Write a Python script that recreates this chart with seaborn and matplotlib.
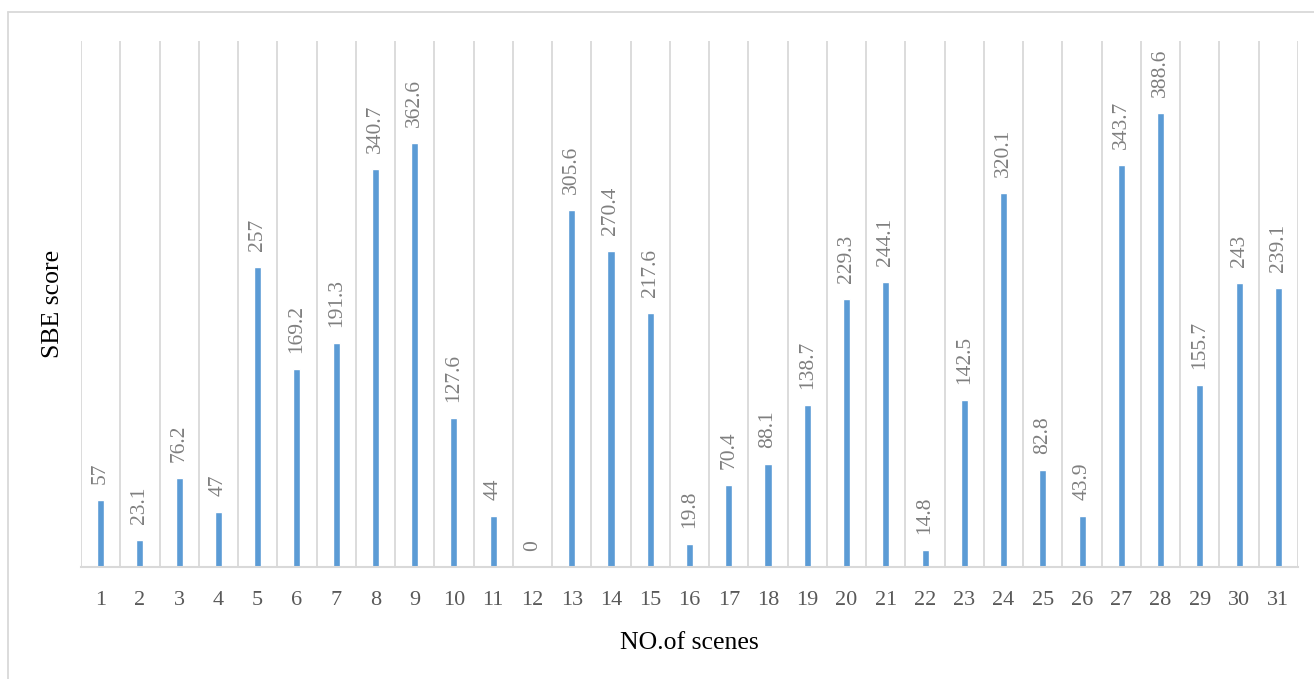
import matplotlib
matplotlib.use("Agg")
import matplotlib.pyplot as plt
import seaborn as sns
import pandas as pd
from matplotlib.lines import Line2D

scenes = [str(i) for i in range(1, 32)]
sbe_scores = [57, 23.1, 76.2, 47, 257, 169.2, 191.3, 340.7, 362.6, 127.6,
              44, 0, 305.6, 270.4, 217.6, 19.8, 70.4, 88.1, 138.7, 229.3,
              244.1, 14.8, 142.5, 320.1, 82.8, 43.9, 343.7, 388.6, 155.7, 243,
              239.1]
value_labels = ["57", "23.1", "76.2", "47", "257", "169.2", "191.3", "340.7",
                "362.6", "127.6", "44", "0", "305.6", "270.4", "217.6", "19.8",
                "70.4", "88.1", "138.7", "229.3", "244.1", "14.8", "142.5",
                "320.1", "82.8", "43.9", "343.7", "388.6", "155.7", "243",
                "239.1"]

df = pd.DataFrame({"scene": scenes, "score": sbe_scores})

sns.set_theme(style="white")
plt.rcParams["font.family"] = ["Liberation Serif", "DejaVu Serif"]

fig = plt.figure(figsize=(13.14, 6.79), dpi=100)
ax = fig.add_axes([81 / 1314, 1 - 567 / 679, (1298 - 81) / 1314, (567 - 41) / 679])

sns.barplot(data=df, x="scene", y="score", color="#5B9BD5", width=0.18,
            saturation=1, ax=ax, order=scenes)

ax.set_xlim(-0.5, len(scenes) - 0.5)
ax.set_ylim(0, 450)

# vertical gridlines on the category boundaries
for b in range(len(scenes) + 1):
    ax.axvline(b - 0.5, color="#D9D9D9", lw=1.3, zorder=0)

for s in ["top", "right", "left"]:
    ax.spines[s].set_visible(False)
ax.spines["bottom"].set_color("#D9D9D9")
ax.spines["bottom"].set_linewidth(1.5)
ax.set_yticks([])
ax.tick_params(axis="x", length=0, labelsize=16, colors="#595959", pad=17)

for i, (v, t) in enumerate(zip(sbe_scores, value_labels)):
    ax.annotate(t, (i, v), xytext=(0, 11.5), textcoords="offset points",
                rotation=90, ha="center", va="bottom", fontsize=15.5,
                color="#7F7F7F")

ax.set_xlabel("NO.of scenes", fontsize=18.5, color="black", labelpad=16)
ax.set_ylabel("SBE score", fontsize=18.5, color="black", labelpad=12)

# outer frame of the chart area
fig.add_artist(Line2D([8 / 1314, 8 / 1314], [0, 1 - 12 / 679],
                      transform=fig.transFigure, color="#D9D9D9", lw=1.3))
fig.add_artist(Line2D([8 / 1314, 1], [1 - 12 / 679, 1 - 12 / 679],
                      transform=fig.transFigure, color="#D9D9D9", lw=1.3))

fig.savefig("out.png", dpi=100, facecolor="white")
